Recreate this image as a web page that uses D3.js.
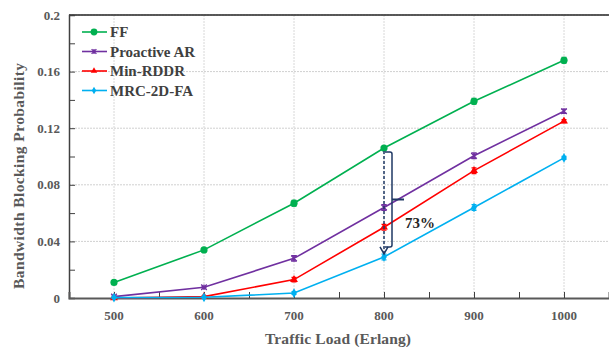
<!DOCTYPE html>
<html><head><meta charset="utf-8">
<script src="https://cdn.jsdelivr.net/npm/d3@7"></script>
<style>body{margin:0;background:#fff}svg{display:block}</style>
</head><body>
<svg id="c" width="609" height="347"></svg>
<script>
const loads = [500, 600, 700, 800, 900, 1000];
const seriesNames = ["FF", "Proactive AR", "Min-RDDR", "MRC-2D-FA"];
const ffValues = [0.011, 0.034, 0.067, 0.106, 0.139, 0.168];
const arValues = [0.001, 0.0076, 0.028, 0.064, 0.1005, 0.132];
const rddrValues = [0.0, 0.001, 0.013, 0.050, 0.090, 0.125];
const mrcValues = [0.0003, 0.0005, 0.0035, 0.029, 0.064, 0.099];
const errFF = [0.001, 0.001, 0.002, 0.001, 0.002, 0.002];
const errAR = [0.0005, 0.0005, 0.002, 0.002, 0.002, 0.0015];
const errRDDR = [0.0005, 0.0005, 0.0015, 0.002, 0.002, 0.001];
const errMRC = [0.0005, 0.0005, 0.001, 0.002, 0.002, 0.001];
const yTicks = [0, 0.04, 0.08, 0.12, 0.16, 0.2];
const yTickLabels = ["0", "0.04", "0.08", "0.12", "0.16", "0.2"];
const xTicks = [500, 600, 700, 800, 900, 1000];
const annotationLabel = "73%";

const colors = ["#00b050", "#7030a0", "#ff0000", "#00b0f0"];
const allValues = [ffValues, arValues, rddrValues, mrcValues];
const allErr = [errFF, errAR, errRDDR, errMRC];
const shapes = ["circle", "cross", "triangle", "diamond"];

const svg = d3.select("#c");
const L = 69, R = 609, T = 15, B = 298;
const x = d3.scaleLinear().domain([450, 1050]).range([L, R]);
const y = d3.scaleLinear().domain([0, 0.2]).range([B, T]);
const serif = "'Liberation Serif','Times New Roman',serif";

// grid
const g = svg.append("g");
g.selectAll("line.hg").data(yTicks.slice(1)).enter().append("line")
  .attr("x1", L).attr("x2", R).attr("y1", d => y(d)).attr("y2", d => y(d))
  .attr("stroke", "#d0d0d0").attr("stroke-width", 1).attr("stroke-dasharray", "2,1");
g.selectAll("line.vg").data(xTicks).enter().append("line")
  .attr("x1", d => x(d)).attr("x2", d => x(d)).attr("y1", T).attr("y2", B)
  .attr("stroke", "#d8d8d8").attr("stroke-width", 1).attr("stroke-dasharray", "2,1");

// top frame line
svg.append("line").attr("x1", L).attr("x2", R).attr("y1", T).attr("y2", T)
  .attr("stroke", "#262626").attr("stroke-width", 1.5);

// Y axis
const yAxis = d3.axisLeft(y).tickValues(d3.range(0, 0.2001, 0.02)).tickSize(-6).tickFormat("");
const ya = svg.append("g").attr("transform", `translate(${L},0)`).call(yAxis);
ya.select(".domain").attr("stroke", "#404040").attr("stroke-width", 1.5);
ya.selectAll(".tick line").attr("stroke", "#404040");
svg.selectAll("text.yl").data(yTicks).enter().append("text")
  .attr("x", 60).attr("y", d => y(d) + 4.5).attr("text-anchor", "end")
  .attr("font-family", serif).attr("font-weight", "bold").attr("font-size", 13)
  .attr("fill", "#595959").text((d, i) => yTickLabels[i]);

// X axis
const xAxis = d3.axisBottom(x).tickValues(d3.range(500, 1001, 50)).tickSize(-6).tickFormat("");
const xa = svg.append("g").attr("transform", `translate(0,${B})`).call(xAxis);
xa.select(".domain").attr("stroke", "#595959").attr("stroke-width", 2);
xa.selectAll(".tick line").attr("stroke", "#404040");
svg.selectAll("text.xl").data(xTicks).enter().append("text")
  .attr("x", d => x(d)).attr("y", 320).attr("text-anchor", "middle")
  .attr("font-family", serif).attr("font-weight", "bold").attr("font-size", 13)
  .attr("fill", "#595959").text(d => d);

// titles
svg.append("text").attr("x", 338).attr("y", 344).attr("text-anchor", "middle")
  .attr("font-family", serif).attr("font-weight", "bold").attr("font-size", 15.5)
  .attr("textLength", 146).attr("lengthAdjust", "spacing")
  .attr("fill", "#595959").text("Traffic Load (Erlang)");
svg.append("text").attr("transform", "translate(23.5,176) rotate(-90)").attr("text-anchor", "middle")
  .attr("font-family", serif).attr("font-weight", "bold").attr("font-size", 15.5)
  .attr("textLength", 226).attr("lengthAdjust", "spacing")
  .attr("fill", "#595959").text("Bandwidth Blocking Probability");

function marker(sel, shape, color, cx, cy, s) {
  if (shape === "circle") {
    sel.append("circle").attr("cx", cx).attr("cy", cy).attr("r", s).attr("fill", color);
  } else if (shape === "cross") {
    sel.append("path").attr("d", `M${cx-s},${cy-s}L${cx+s},${cy+s}M${cx-s},${cy+s}L${cx+s},${cy-s}M${cx},${cy-s}L${cx},${cy+s}`)
      .attr("stroke", color).attr("stroke-width", 1.3).attr("fill", "none");
  } else if (shape === "triangle") {
    sel.append("path").attr("d", d3.symbol().type(d3.symbolTriangle).size(s * s * 3)())
      .attr("transform", `translate(${cx},${cy})`).attr("fill", color);
  } else {
    sel.append("path").attr("d", d3.symbol().type(d3.symbolDiamond).size(s * s * 3)())
      .attr("transform", `translate(${cx},${cy})`).attr("fill", color);
  }
}

const line = d3.line().x((d, i) => x(loads[i])).y(d => y(d));
const markerSize = [3.6, 2.8, 3, 3];
allValues.forEach((vals, si) => {
  const sg = svg.append("g");
  sg.append("path").datum(vals).attr("d", line).attr("fill", "none")
    .attr("stroke", colors[si]).attr("stroke-width", 1.6);
  vals.forEach((v, i) => {
    const e = allErr[si][i];
    const cx = x(loads[i]);
    const y1 = y(v + e), y2 = y(v - e);
    sg.append("path").attr("d", `M${cx},${y1}V${y2}M${cx-2.5},${y1}H${cx+2.5}M${cx-2.5},${y2}H${cx+2.5}`)
      .attr("stroke", colors[si]).attr("stroke-width", 1.3).attr("fill", "none");
    marker(sg, shapes[si], colors[si], cx, y(v), markerSize[si]);
  });
});

// annotation
const navy = "#1f3864";
const ax = x(800);
const yTop = y(ffValues[3]) + 3, yBot = y(mrcValues[3]) - 3;
svg.append("line").attr("x1", ax).attr("x2", ax).attr("y1", yTop).attr("y2", yBot - 1)
  .attr("stroke", navy).attr("stroke-width", 1.5).attr("stroke-dasharray", "3,2");
svg.append("path").attr("d", `M${ax-4},${yBot-7}L${ax},${yBot}L${ax+4},${yBot-7}`)
  .attr("stroke", navy).attr("stroke-width", 1.5).attr("fill", "none");
const bx = ax + 8;
svg.append("path").attr("d", `M${ax+1},${y(ffValues[3]) + 4}H${bx-2}Q${bx},${y(ffValues[3]) + 4} ${bx},${y(ffValues[3]) + 6}V${yBot - 9}Q${bx},${yBot - 7} ${bx-2},${yBot - 7}H${ax+1}`)
  .attr("stroke", navy).attr("stroke-width", 1.5).attr("fill", "none");
const midY = (y(ffValues[3]) + 4 + yBot - 7) / 2;
svg.append("line").attr("x1", bx).attr("x2", bx + 12).attr("y1", midY).attr("y2", midY)
  .attr("stroke", navy).attr("stroke-width", 2);
svg.append("text").attr("x", 405).attr("y", 228).attr("font-family", serif)
  .attr("font-weight", "bold").attr("font-size", 15).attr("fill", "#262626").text(annotationLabel);

// legend
const lg = svg.append("g");
seriesNames.forEach((n, i) => {
  const ly = 32 + i * 19.5;
  lg.append("line").attr("x1", 82).attr("x2", 107).attr("y1", ly).attr("y2", ly)
    .attr("stroke", colors[i]).attr("stroke-width", 1.6);
  marker(lg, shapes[i], colors[i], 94, ly, i === 0 ? 3.4 : 2.4);
  lg.append("text").attr("x", 110).attr("y", ly + 5).attr("font-family", serif)
    .attr("font-weight", "bold").attr("font-size", 15).attr("fill", "#404040").text(n);
});
</script>
</body></html>
